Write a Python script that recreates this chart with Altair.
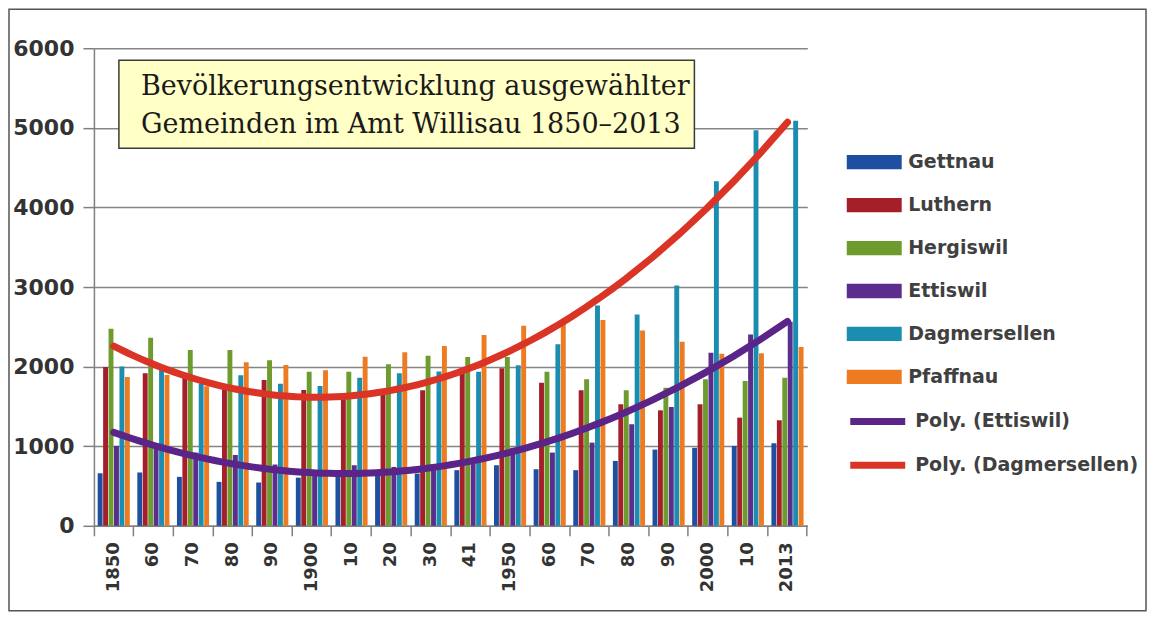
import altair as alt
import pandas as pd

years = ["1850", "1860", "1870", "1880", "1890", "1900", "1910", "1920", "1930",
         "1941", "1950", "1960", "1970", "1980", "1990", "2000", "2010", "2013"]
tick_labels = ["1850", "60", "70", "80", "90", "1900", "10", "20", "30",
               "41", "1950", "60", "70", "80", "90", "2000", "10", "2013"]
series = ["Gettnau", "Luthern", "Hergiswil", "Ettiswil", "Dagmersellen", "Pfaffnau"]

gettnau = [660, 670, 615, 552, 544, 605, 627, 640, 656, 699, 761, 711, 699, 815, 958, 980, 1004, 1037]
luthern = [1995, 1916, 1861, 1723, 1832, 1706, 1602, 1652, 1702, 1980, 1978, 1798, 1702, 1527, 1451, 1527, 1359, 1326]
hergiswil = [2476, 2363, 2208, 2208, 2080, 1936, 1936, 2029, 2137, 2120, 2120, 1936, 1840, 1702, 1736, 1840, 1820, 1861]
ettiswil = [1004, 980, 920, 890, 770, 700, 761, 740, 760, 820, 980, 920, 1045, 1276, 1493, 2175, 2405, 2565]
dagmersellen = [2000, 1966, 1786, 1890, 1786, 1757, 1861, 1916, 1940, 1936, 2016, 2280, 2769, 2656, 3020, 4329, 4969, 5090]
pfaffnau = [1870, 1895, 1753, 2054, 2020, 1953, 2125, 2179, 2258, 2396, 2513, 2540, 2585, 2455, 2313, 2162, 2167, 2246]

trend_series = ["Ettiswil", "Dagmersellen"]
trend_names = ["Poly. (Ettiswil)", "Poly. (Dagmersellen)"]
bar_colors = ["#1F4FA0", "#A51F2B", "#6E9B2E", "#5B2D8C", "#1A8DB0", "#EC7B22"]
trend_colors = ["#5B2488", "#DA3427"]
title_lines = ["Bevölkerungsentwicklung ausgewählter", "Gemeinden im Amt Willisau 1850–2013"]

values = [gettnau, luthern, hergiswil, ettiswil, dagmersellen, pfaffnau]
rows = []
for s, vals in zip(series, values):
    for i, (yr, v) in enumerate(zip(years, vals)):
        rows.append({"year": yr, "idx": i, "series": s, "value": v})
df = pd.DataFrame(rows)

label_map = "{" + ",".join(f"'{y}':'{l}'" for y, l in zip(years, tick_labels)) + "}"

legend_common = dict(
    title=None, orient="none", symbolSize=756, labelLimit=400,
    labelFont="DejaVu Sans", labelFontSize=19, labelFontWeight="bold",
    labelColor="#404040", labelOffset=20,
)
bar_legend = alt.Legend(legendX=767, legendY=100, symbolType="M-2,-0.52H2V0.52H-2Z",
                        symbolStrokeWidth=0, symbolOpacity=1, rowPadding=19,
                        **legend_common)
line_legend = alt.Legend(legendX=767, legendY=356, symbolType="M-2,0H2",
                         symbolStrokeWidth=7, symbolOpacity=1, rowPadding=12,
                         **legend_common)

bars = alt.Chart(df).mark_bar().encode(
    x=alt.X("year:N", sort=years, title=None,
            scale=alt.Scale(paddingInner=0, paddingOuter=0),
            axis=alt.Axis(labelExpr=f"{label_map}[datum.label]", labelAngle=-90,
                          labelAlign="right", labelBaseline="middle",
                          labelFont="DejaVu Sans", labelFontSize=18, labelFontWeight="bold",
                          labelColor="#333333", labelPadding=6,
                          bandPosition=1, tickExtra=True, tickSize=10,
                          tickColor="#808080", tickWidth=1.5,
                          domainColor="#808080", domainWidth=1.5, grid=False)),
    xOffset=alt.XOffset("series:N", sort=series,
                        scale=alt.Scale(paddingInner=0.1, paddingOuter=0.69)),
    y=alt.Y("value:Q", title=None, scale=alt.Scale(domain=[0, 6000], nice=False),
            axis=alt.Axis(values=[0, 1000, 2000, 3000, 4000, 5000, 6000], format="d",
                          labelFont="DejaVu Sans", labelFontSize=22, labelFontWeight="bold",
                          labelColor="#333333", labelPadding=9, tickSize=11,
                          tickColor="#808080", tickWidth=1.5,
                          domainColor="#808080", domainWidth=1.5,
                          grid=True, gridColor="#858585", gridWidth=1.5)),
    color=alt.Color("series:N", scale=alt.Scale(domain=series, range=bar_colors),
                    legend=bar_legend),
)

lines = alt.Chart(df).transform_filter(
    alt.FieldOneOfPredicate(field="series", oneOf=trend_series)
).transform_regression(
    "idx", "value", groupby=["series"], method="poly", order=2, extent=[0, 17]
).transform_calculate(
    trend="'Poly. (' + datum.series + ')'"
).mark_line(strokeWidth=7, strokeCap="round").encode(
    x=alt.X("idx:Q", scale=alt.Scale(domain=[-0.5, 17.5], nice=False, zero=False), axis=None),
    y=alt.Y("value:Q"),
    stroke=alt.Stroke("trend:N", scale=alt.Scale(domain=trend_names, range=trend_colors),
                      legend=line_legend),
)

one = pd.DataFrame({"a": [0]})
box = alt.Chart(one).mark_rect(fill="#FFFFC6", stroke="#3a3a3a", strokeWidth=1.5).encode(
    x=alt.value(25), x2=alt.value(601), y=alt.value(12), y2=alt.value(100))
t1 = alt.Chart(one).mark_text(align="left", baseline="alphabetic", font="DejaVu Serif",
                              fontSize=27, color="#1a1a1a").encode(
    x=alt.value(47), y=alt.value(47), text=alt.value(title_lines[0]))
t2 = alt.Chart(one).mark_text(align="left", baseline="alphabetic", font="DejaVu Serif",
                              fontSize=27, color="#1a1a1a").encode(
    x=alt.value(47), y=alt.value(85), text=alt.value(title_lines[1]))
frame = alt.Chart(one).mark_rect(fillOpacity=0, stroke="#555555", strokeWidth=1.5).encode(
    x=alt.value(-85), x2=alt.value(1053), y=alt.value(-39), y2=alt.value(563))

chart = alt.layer(bars, lines, box, t1, t2, frame).resolve_scale(x="independent").properties(
    width=714, height=478, padding=0
).configure_view(stroke=None)

chart.save("out.html", embed_options={"renderer": "svg", "actions": False})
